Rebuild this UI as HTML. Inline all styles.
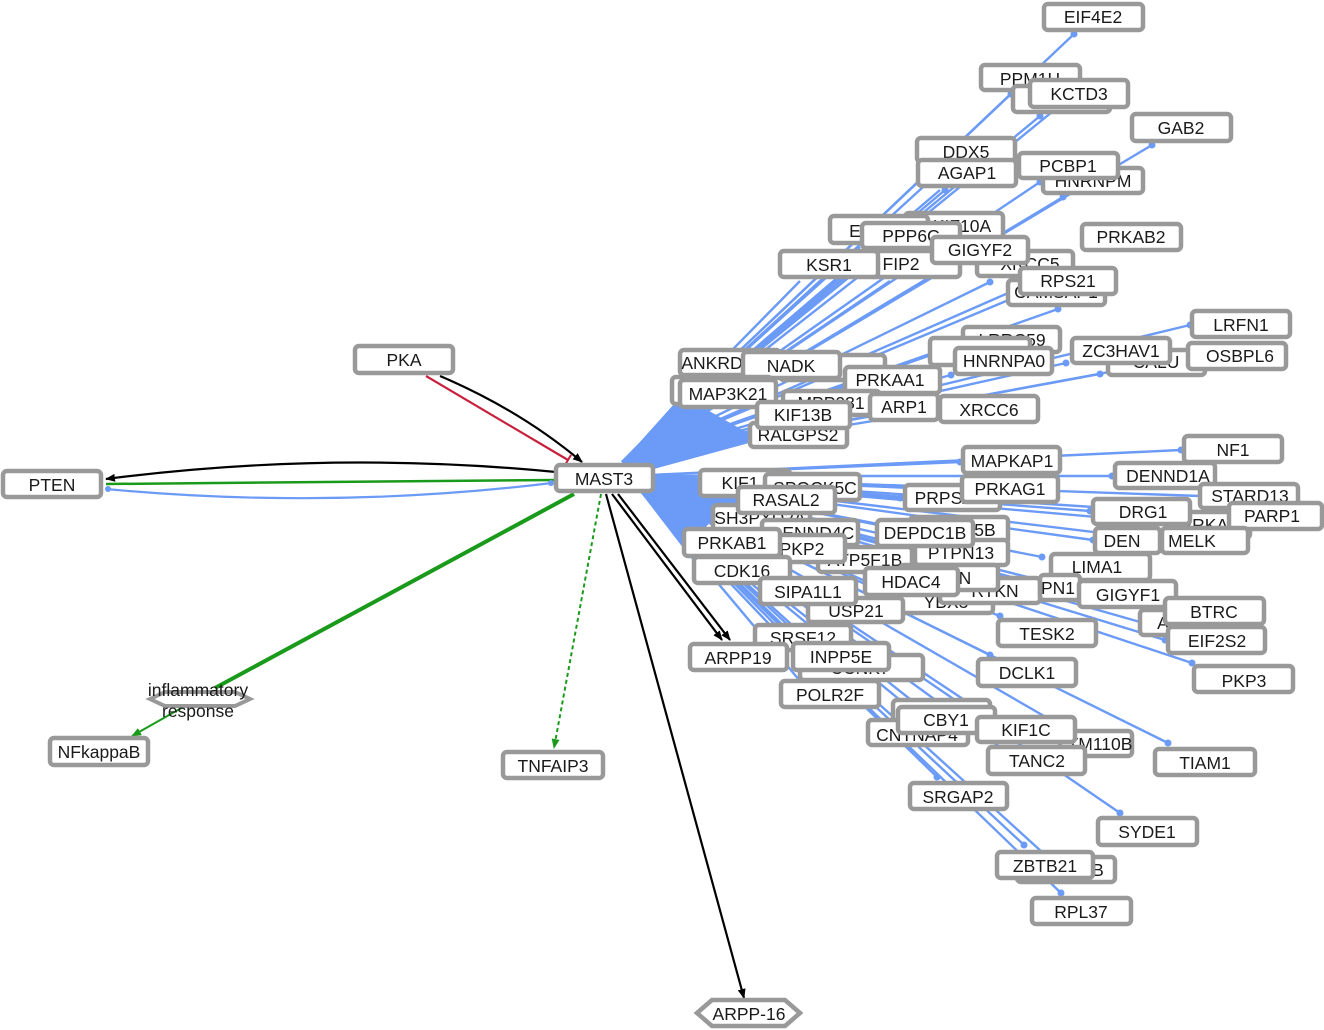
<!DOCTYPE html>
<html><head><meta charset="utf-8"><style>
html,body{margin:0;padding:0;background:#fff;}
svg{display:block;}
.n rect{fill:#fff;stroke:#999;stroke-width:4.5;}
text{font-family:"Liberation Sans",sans-serif;font-size:17.5px;fill:#1a1a1a;text-anchor:middle;}
.b line{stroke:#6b9bf6;stroke-width:2.4;}
.b circle{fill:#6b9bf6;}
</style></head><body>
<svg width="1324" height="1030" viewBox="0 0 1324 1030" xmlns="http://www.w3.org/2000/svg">
<defs>
<marker id="ak" markerWidth="10" markerHeight="8" refX="9" refY="4" orient="auto" markerUnits="userSpaceOnUse"><path d="M0,0 L10,4 L0,8 z" fill="#000"/></marker>
<marker id="ag" markerWidth="10" markerHeight="8" refX="9" refY="4" orient="auto" markerUnits="userSpaceOnUse"><path d="M0,0 L10,4 L0,8 z" fill="#1a9a1a"/></marker>
<marker id="tr" markerWidth="4" markerHeight="12" refX="2" refY="6" orient="auto" markerUnits="userSpaceOnUse"><path d="M2,0 L2,12" stroke="#c8203c" stroke-width="2"/></marker>
</defs>
<path d="M622,462 L700,375 L690,400 L760,440 L628,476 Z" fill="#6b9bf6"/>
<path d="M628,476 L720,483 L740,500 L715,518 L690,542 L700,570 Z" fill="#6b9bf6"/>
<g class="b">
<line x1="622" y1="462" x2="1074" y2="34"/><circle cx="1074" cy="34" r="3.5"/>
<line x1="622" y1="462" x2="1011" y2="94"/><circle cx="1011" cy="94" r="3.5"/>
<line x1="622" y1="462" x2="1040" y2="116"/><circle cx="1040" cy="116" r="3.5"/>
<line x1="622" y1="462" x2="1052" y2="112"/>
<line x1="622" y1="462" x2="1152" y2="145"/><circle cx="1152" cy="145" r="3.5"/>
<line x1="622" y1="462" x2="946" y2="166"/>
<line x1="622" y1="462" x2="945" y2="190"/><circle cx="945" cy="190" r="3.5"/>
<line x1="622" y1="462" x2="940" y2="190"/>
<line x1="622" y1="462" x2="1040" y2="182"/><circle cx="1040" cy="182" r="3.5"/>
<line x1="622" y1="462" x2="1063" y2="197"/><circle cx="1063" cy="197" r="3.5"/>
<line x1="622" y1="462" x2="935" y2="242"/>
<line x1="622" y1="462" x2="860" y2="247"/>
<line x1="622" y1="462" x2="890" y2="252"/>
<line x1="622" y1="462" x2="1080" y2="270"/><circle cx="1080" cy="270" r="3.5"/>
<line x1="622" y1="462" x2="800" y2="281"/>
<line x1="622" y1="462" x2="820" y2="281"/>
<line x1="622" y1="462" x2="890" y2="281"/>
<line x1="622" y1="462" x2="990" y2="282"/><circle cx="990" cy="282" r="3.5"/>
<line x1="622" y1="462" x2="950" y2="267"/>
<line x1="622" y1="462" x2="1058" y2="309"/><circle cx="1058" cy="309" r="3.5"/>
<line x1="622" y1="462" x2="1015" y2="290"/>
<line x1="622" y1="462" x2="960" y2="345"/>
<line x1="622" y1="462" x2="951" y2="375"/><circle cx="951" cy="375" r="3.5"/>
<line x1="622" y1="462" x2="1066" y2="363"/><circle cx="1066" cy="363" r="3.5"/>
<line x1="622" y1="462" x2="1100" y2="374"/><circle cx="1100" cy="374" r="3.5"/>
<line x1="622" y1="462" x2="1185" y2="358"/><circle cx="1185" cy="358" r="3.5"/>
<line x1="622" y1="462" x2="1190" y2="325"/><circle cx="1190" cy="325" r="3.5"/>
<line x1="622" y1="462" x2="850" y2="385"/>
<line x1="622" y1="462" x2="800" y2="410"/>
<line x1="622" y1="462" x2="940" y2="410"/>
<line x1="628" y1="476" x2="1181" y2="450"/><circle cx="1181" cy="450" r="3.5"/>
<line x1="628" y1="476" x2="960" y2="462"/><circle cx="960" cy="462" r="3.5"/>
<line x1="628" y1="476" x2="1112" y2="476"/><circle cx="1112" cy="476" r="3.5"/>
<line x1="628" y1="476" x2="960" y2="490"/>
<line x1="628" y1="476" x2="900" y2="498"/><circle cx="900" cy="498" r="3.5"/>
<line x1="628" y1="476" x2="1200" y2="496"/>
<line x1="628" y1="476" x2="770" y2="487"/>
<line x1="628" y1="476" x2="1090" y2="511"/><circle cx="1090" cy="511" r="3.5"/>
<line x1="628" y1="476" x2="1228" y2="516"/><circle cx="1228" cy="516" r="3.5"/>
<line x1="628" y1="476" x2="1188" y2="525"/>
<line x1="628" y1="476" x2="1093" y2="540"/><circle cx="1093" cy="540" r="3.5"/>
<line x1="628" y1="476" x2="1160" y2="540"/>
<line x1="628" y1="476" x2="877" y2="533"/>
<line x1="628" y1="476" x2="910" y2="530"/>
<line x1="628" y1="476" x2="762" y2="532"/>
<line x1="628" y1="476" x2="776" y2="548"/>
<line x1="628" y1="476" x2="818" y2="560"/>
<line x1="628" y1="476" x2="915" y2="552"/>
<line x1="628" y1="476" x2="1042" y2="557"/><circle cx="1042" cy="557" r="3.5"/>
<line x1="628" y1="476" x2="900" y2="578"/>
<line x1="628" y1="476" x2="865" y2="581"/>
<line x1="628" y1="476" x2="940" y2="590"/>
<line x1="628" y1="476" x2="1040" y2="587"/>
<line x1="628" y1="476" x2="760" y2="591"/>
<line x1="628" y1="476" x2="1076" y2="594"/><circle cx="1076" cy="594" r="3.5"/>
<line x1="628" y1="476" x2="1162" y2="611"/><circle cx="1162" cy="611" r="3.5"/>
<line x1="628" y1="476" x2="1140" y2="622"/>
<line x1="628" y1="476" x2="1165" y2="640"/><circle cx="1165" cy="640" r="3.5"/>
<line x1="628" y1="476" x2="900" y2="600"/>
<line x1="628" y1="476" x2="810" y2="610"/>
<line x1="628" y1="476" x2="1000" y2="616"/><circle cx="1000" cy="616" r="3.5"/>
<line x1="628" y1="476" x2="770" y2="625"/>
<line x1="628" y1="476" x2="800" y2="645"/>
<line x1="628" y1="476" x2="810" y2="660"/>
<line x1="628" y1="476" x2="990" y2="655"/><circle cx="990" cy="655" r="3.5"/>
<line x1="628" y1="476" x2="1192" y2="663"/><circle cx="1192" cy="663" r="3.5"/>
<line x1="628" y1="476" x2="800" y2="681"/>
<line x1="628" y1="476" x2="900" y2="700"/>
<line x1="628" y1="476" x2="920" y2="707"/>
<line x1="628" y1="476" x2="880" y2="720"/>
<line x1="628" y1="476" x2="990" y2="717"/>
<line x1="628" y1="476" x2="1070" y2="731"/>
<line x1="628" y1="476" x2="1168" y2="743"/><circle cx="1168" cy="743" r="3.5"/>
<line x1="628" y1="476" x2="1000" y2="747"/>
<line x1="628" y1="476" x2="937" y2="777"/><circle cx="937" cy="777" r="3.5"/>
<line x1="628" y1="476" x2="1120" y2="813"/><circle cx="1120" cy="813" r="3.5"/>
<line x1="628" y1="476" x2="1024" y2="845"/><circle cx="1024" cy="845" r="3.5"/>
<line x1="628" y1="476" x2="1042" y2="852"/>
<line x1="628" y1="476" x2="1061" y2="893"/><circle cx="1061" cy="893" r="3.5"/>
</g>
<path d="M556,472 Q330,450 106,479" fill="none" stroke="#000" stroke-width="2.2" marker-end="url(#ak)"/>
<line x1="556" y1="480" x2="106" y2="484" stroke="#1a9a1a" stroke-width="2.5"/>
<path d="M106,489 Q330,510 552,483" fill="none" stroke="#6b9bf6" stroke-width="2.2"/>
<circle cx="108" cy="489" r="3" fill="#6b9bf6"/><circle cx="551" cy="483" r="3" fill="#6b9bf6"/>
<path d="M440,376 Q520,410 582,462" fill="none" stroke="#000" stroke-width="2.2" marker-end="url(#ak)"/>
<path d="M426,376 Q500,420 568,460" fill="none" stroke="#c8203c" stroke-width="2.2" marker-end="url(#tr)"/>
<line x1="574" y1="494" x2="215" y2="688" stroke="#1a9a1a" stroke-width="4"/>
<line x1="185" y1="706" x2="132" y2="736" stroke="#1a9a1a" stroke-width="2" marker-end="url(#ag)"/>
<line x1="601" y1="494" x2="554" y2="748" stroke="#1a9a1a" stroke-width="2" stroke-dasharray="4,3" marker-end="url(#ag)"/>
<line x1="612" y1="494" x2="722" y2="640" stroke="#000" stroke-width="2.2" marker-end="url(#ak)"/>
<line x1="618" y1="494" x2="730" y2="640" stroke="#000" stroke-width="2.2" marker-end="url(#ak)"/>
<line x1="606" y1="494" x2="744" y2="998" stroke="#000" stroke-width="2.2" marker-end="url(#ak)"/>
<g class="n">
<rect x="1044" y="4" width="99" height="26" rx="4"/><text x="1093" y="23">EIF4E2</text>
<rect x="981" y="65" width="99" height="25" rx="4"/><text x="1030" y="85">PPM1H</text>
<rect x="1013" y="86" width="97" height="26" rx="4"/>
<rect x="1030" y="80" width="98" height="27" rx="4"/><text x="1079" y="100">KCTD3</text>
<rect x="1132" y="114" width="99" height="27" rx="4"/><text x="1181" y="134">GAB2</text>
<rect x="1043" y="168" width="100" height="25" rx="4"/><text x="1093" y="187">HNRNPM</text>
<rect x="917" y="138" width="98" height="24" rx="4"/><text x="966" y="158">DDX5</text>
<rect x="918" y="160" width="98" height="26" rx="4"/><text x="967" y="179">AGAP1</text>
<rect x="1019" y="153" width="99" height="25" rx="4"/><text x="1068" y="172">PCBP1</text>
<rect x="905" y="213" width="98" height="25" rx="4"/><text x="962" y="232">KIF10A</text>
<rect x="830" y="216" width="98" height="27" rx="4"/><text x="855" y="237">E</text>
<rect x="862" y="223" width="98" height="25" rx="4"/><text x="911" y="242">PPP6C</text>
<rect x="1082" y="224" width="99" height="26" rx="4"/><text x="1131" y="243">PRKAB2</text>
<rect x="977" y="251" width="96" height="25" rx="4"/><text x="1030" y="270">XRCC5</text>
<rect x="870" y="251" width="90" height="26" rx="4"/><text x="901" y="270">FIP2</text>
<rect x="932" y="237" width="96" height="26" rx="4"/><text x="980" y="256">GIGYF2</text>
<rect x="780" y="251" width="98" height="26" rx="4"/><text x="829" y="271">KSR1</text>
<rect x="1008" y="280" width="97" height="25" rx="4"/><text x="1056" y="298">CAMSAP1</text>
<rect x="1020" y="268" width="96" height="26" rx="4"/><text x="1068" y="287">RPS21</text>
<rect x="963" y="327" width="97" height="25" rx="4"/><text x="1012" y="346">LRRC59</text>
<rect x="930" y="338" width="100" height="27" rx="4"/>
<rect x="955" y="348" width="97" height="26" rx="4"/><text x="1004" y="367">HNRNPA0</text>
<rect x="1108" y="350" width="97" height="25" rx="4"/><text x="1156" y="368">CALU</text>
<rect x="1188" y="343" width="98" height="26" rx="4"/><text x="1240" y="362">OSBPL6</text>
<rect x="1072" y="338" width="98" height="25" rx="4"/><text x="1121" y="357">ZC3HAV1</text>
<rect x="1192" y="311" width="98" height="26" rx="4"/><text x="1241" y="331">LRFN1</text>
<rect x="780" y="355" width="105" height="25" rx="4"/>
<rect x="680" y="350" width="100" height="25" rx="4"/><text x="712" y="369">ANKRD</text>
<rect x="743" y="352" width="97" height="26" rx="4"/><text x="791" y="372">NADK</text>
<rect x="672" y="377" width="100" height="27" rx="4"/>
<rect x="845" y="367" width="95" height="26" rx="4"/><text x="890" y="386">PRKAA1</text>
<rect x="783" y="391" width="97" height="24" rx="4"/><text x="831" y="409">MPP031</text>
<rect x="870" y="394" width="68" height="26" rx="4"/><text x="904" y="413">ARP1</text>
<rect x="680" y="380" width="96" height="27" rx="4"/><text x="728" y="400">MAP3K21</text>
<rect x="940" y="396" width="98" height="26" rx="4"/><text x="989" y="416">XRCC6</text>
<rect x="750" y="423" width="97" height="24" rx="4"/><text x="798" y="441">RALGPS2</text>
<rect x="757" y="402" width="93" height="26" rx="4"/><text x="803" y="421">KIF13B</text>
<rect x="1184" y="436" width="98" height="26" rx="4"/><text x="1233" y="456">NF1</text>
<rect x="963" y="447" width="97" height="26" rx="4"/><text x="1012" y="467">MAPKAP1</text>
<rect x="1115" y="463" width="100" height="25" rx="4"/><text x="1168" y="482">DENND1A</text>
<rect x="905" y="485" width="95" height="25" rx="4"/><text x="955" y="504">PRPSAP2</text>
<rect x="962" y="476" width="96" height="26" rx="4"/><text x="1010" y="495">PRKAG1</text>
<rect x="1200" y="484" width="98" height="24" rx="4"/><text x="1250" y="502">STARD13</text>
<rect x="700" y="470" width="90" height="26" rx="4"/><text x="740" y="489">KIF1</text>
<rect x="765" y="474" width="95" height="26" rx="4"/><text x="815" y="494">SPOCK5C</text>
<rect x="713" y="505" width="97" height="25" rx="4"/><text x="760" y="524">SH3PXD2A</text>
<rect x="738" y="487" width="97" height="26" rx="4"/><text x="786" y="506">RASAL2</text>
<rect x="1187" y="512" width="63" height="26" rx="4"/><text x="1215" y="531">PRKAA2</text>
<rect x="1093" y="499" width="97" height="25" rx="4"/><text x="1143" y="518">DRG1</text>
<rect x="1229" y="503" width="93" height="26" rx="4"/><text x="1272" y="522">PARP1</text>
<rect x="1095" y="528" width="65" height="25" rx="4"/><text x="1122" y="547">DEN</text>
<rect x="1162" y="528" width="86" height="25" rx="4"/><text x="1192" y="547">MELK</text>
<rect x="910" y="517" width="98" height="26" rx="4"/><text x="985" y="536">5B</text>
<rect x="762" y="520" width="96" height="25" rx="4"/><text x="812" y="539">DENND4C</text>
<rect x="818" y="547" width="94" height="25" rx="4"/><text x="865" y="566">ATP5F1B</text>
<rect x="915" y="540" width="93" height="25" rx="4"/><text x="961" y="559">PTPN13</text>
<rect x="877" y="520" width="96" height="26" rx="4"/><text x="925" y="539">DEPDC1B</text>
<rect x="775" y="535" width="70" height="27" rx="4"/><text x="802" y="555">PKP2</text>
<rect x="684" y="529" width="96" height="27" rx="4"/><text x="732" y="549">PRKAB1</text>
<rect x="694" y="557" width="96" height="26" rx="4"/><text x="742" y="577">CDK16</text>
<rect x="1051" y="554" width="99" height="26" rx="4"/><text x="1097" y="573">LIMA1</text>
<rect x="898" y="590" width="95" height="23" rx="4"/><text x="946" y="608">YBX3</text>
<rect x="940" y="578" width="100" height="25" rx="4"/><text x="995" y="597">RTKN</text>
<rect x="900" y="565" width="98" height="25" rx="4"/><text x="965" y="584">N</text>
<rect x="1040" y="575" width="40" height="25" rx="4"/><text x="1058" y="594">PN1</text>
<rect x="865" y="568" width="93" height="27" rx="4"/><text x="911" y="588">HDAC4</text>
<rect x="808" y="598" width="95" height="24" rx="4"/><text x="856" y="617">USP21</text>
<rect x="760" y="578" width="96" height="26" rx="4"/><text x="808" y="598">SIPA1L1</text>
<rect x="1140" y="610" width="50" height="25" rx="4"/><text x="1163" y="629">A</text>
<rect x="1079" y="581" width="97" height="26" rx="4"/><text x="1128" y="601">GIGYF1</text>
<rect x="1165" y="598" width="99" height="26" rx="4"/><text x="1214" y="618">BTRC</text>
<rect x="1168" y="627" width="97" height="26" rx="4"/><text x="1217" y="647">EIF2S2</text>
<rect x="998" y="620" width="98" height="26" rx="4"/><text x="1047" y="640">TESK2</text>
<rect x="800" y="655" width="123" height="25" rx="4"/><text x="860" y="674">CCNK7</text>
<rect x="755" y="625" width="96" height="25" rx="4"/><text x="803" y="644">SRSF12</text>
<rect x="690" y="644" width="97" height="26" rx="4"/><text x="738" y="664">ARPP19</text>
<rect x="793" y="643" width="96" height="27" rx="4"/><text x="841" y="663">INPP5E</text>
<rect x="978" y="659" width="98" height="27" rx="4"/><text x="1027" y="679">DCLK1</text>
<rect x="1194" y="666" width="99" height="26" rx="4"/><text x="1244" y="687">PKP3</text>
<rect x="781" y="681" width="98" height="26" rx="4"/><text x="830" y="701">POLR2F</text>
<rect x="893" y="700" width="97" height="24" rx="4"/><text x="941" y="718">TRIM28</text>
<rect x="868" y="720" width="100" height="25" rx="4"/><text x="917" y="741">CNTNAP4</text>
<rect x="898" y="707" width="97" height="26" rx="4"/><text x="946" y="726">CBY1</text>
<rect x="1060" y="731" width="72" height="25" rx="4"/><text x="1100" y="750">TM110B</text>
<rect x="977" y="717" width="98" height="25" rx="4"/><text x="1026" y="736">KIF1C</text>
<rect x="988" y="747" width="97" height="27" rx="4"/><text x="1037" y="767">TANC2</text>
<rect x="1155" y="749" width="100" height="26" rx="4"/><text x="1205" y="769">TIAM1</text>
<rect x="910" y="783" width="97" height="26" rx="4"/><text x="958" y="803">SRGAP2</text>
<rect x="1098" y="818" width="99" height="27" rx="4"/><text x="1147" y="838">SYDE1</text>
<rect x="1017" y="857" width="98" height="25" rx="4"/><text x="1098" y="876">B</text>
<rect x="997" y="852" width="96" height="26" rx="4"/><text x="1045" y="872">ZBTB21</text>
<rect x="1032" y="898" width="99" height="26" rx="4"/><text x="1081" y="918">RPL37</text>
<rect x="556" y="465" width="97" height="26" rx="4"/><text x="604" y="485">MAST3</text>
<rect x="355" y="346" width="98" height="27" rx="4"/><text x="404" y="366">PKA</text>
<rect x="3" y="471" width="98" height="26" rx="4"/><text x="52" y="491">PTEN</text>
<rect x="50" y="738" width="98" height="27" rx="4"/><text x="99" y="758">NFkappaB</text>
<rect x="503" y="752" width="100" height="26" rx="4"/><text x="553" y="772">TNFAIP3</text>
</g>
<polygon points="150,699 165,692 235,692 250,699 235,706 165,706" fill="#fff" stroke="#999" stroke-width="4"/>
<text x="198" y="696">inflammatory</text>
<text x="198" y="717">response</text>
<polygon points="697,1013 712,1000 785,1000 800,1013 785,1026 712,1026" fill="#fff" stroke="#999" stroke-width="4.5"/>
<text x="749" y="1020">ARPP-16</text>
</svg>
</body></html>
